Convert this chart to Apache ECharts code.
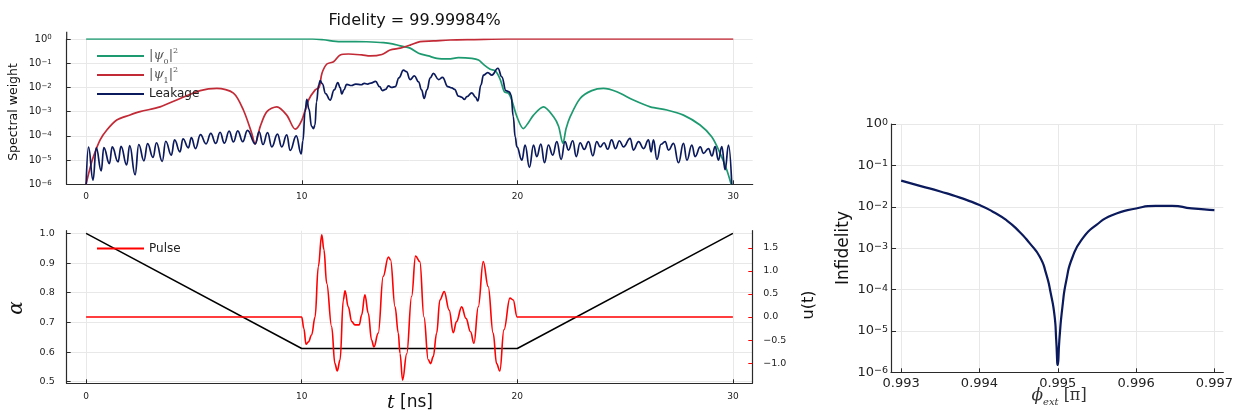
<!DOCTYPE html>
<html>
<head>
<meta charset="utf-8">
<script src="https://cdn.jsdelivr.net/npm/echarts@6/dist/echarts.min.js"></script>
<style>
  html, body { margin: 0; padding: 0; background: #fff; }
  #chart { width: 1236px; height: 412px; }
</style>
</head>
<body>
<div id="chart"></div>
<script>
// ---- data -------------------------------------------------------------
const titleText = 'Fidelity = 99.99984%';
const timeTicks = [0, 10, 20, 30];
const alphaTicks = [0.5, 0.6, 0.7, 0.8, 0.9, 1.0];
const pulseTicks = [-1.0, -0.5, 0.0, 0.5, 1.0, 1.5];
const phiTicks = [0.993, 0.994, 0.995, 0.996, 0.997];

// spectral weight of the ground state |psi0|^2 vs t [ns]
const psi0 = [
  [0, 1.0], [10.5, 1.0], [11.0, 0.93], [11.78, 0.78], [12.5, 0.78], [13.0, 0.77],
  [13.78, 0.71], [14.2, 0.63], [14.56, 0.52], [15.02, 0.42], [15.41, 0.26],
  [15.87, 0.20], [16.26, 0.158], [16.8, 0.15], [17.26, 0.17], [17.88, 0.158],
  [18.19, 0.135], [18.42, 0.089], [18.73, 0.056], [18.96, 0.049], [19.19, 0.022],
  [19.39, 6.6e-3], [19.58, 5.8e-3], [19.73, 3.0e-3], [19.97, 6.2e-4], [20.27, 2.0e-4],
  [20.5, 3.5e-4], [20.74, 7.2e-4], [21.2, 1.58e-3], [21.67, 6.2e-4], [21.9, 2.5e-4],
  [22.1, 4.9e-5], [22.25, 2.0e-4], [22.44, 6.2e-4], [22.9, 3.5e-3], [23.44, 7.4e-3],
  [23.98, 9.1e-3], [24.6, 6.6e-3], [25.37, 3.0e-3], [26.15, 1.58e-3], [26.92, 1.17e-3],
  [27.69, 7.2e-4], [28.46, 2.8e-4], [29.0, 9.1e-5], [29.39, 1.9e-5], [29.7, 3.9e-6],
  [29.9, 1e-6]
];

// spectral weight of the excited state |psi1|^2
const psi1 = [
  [0, 1e-6], [0.19, 5.0e-6], [0.34, 1.4e-5], [0.65, 6.8e-5], [0.96, 1.74e-4],
  [1.42, 4.5e-4], [2.0, 7.1e-4], [2.5, 1.0e-3], [3.43, 1.58e-3], [4.36, 3.5e-3],
  [5.29, 7.4e-3], [6.06, 9.1e-3], [6.83, 5.8e-3], [7.29, 1.17e-3], [7.68, 1.26e-4],
  [7.83, 4.6e-5], [8.07, 2.4e-4], [8.38, 1.0e-3], [8.84, 1.58e-3], [9.3, 7.2e-4],
  [9.69, 1.9e-4], [10.0, 4.5e-4], [10.31, 3.0e-3], [10.62, 7.9e-3], [10.8, 0.01],
  [10.93, 0.038], [11.16, 0.093], [11.47, 0.115], [11.78, 0.22], [12.16, 0.24],
  [12.78, 0.22], [13.17, 0.20], [13.71, 0.23], [14.09, 0.35], [14.56, 0.42],
  [15.02, 0.56], [15.48, 0.78], [16.1, 0.83], [16.87, 0.91], [18.0, 0.95],
  [19.5, 1.0], [30, 1.0]
];

// leakage out of the computational subspace
const leakage = [
  [0, 1e-6], [0.11, 3.4e-5], [0.32, 1.5e-6], [0.47, 3.2e-5], [0.70, 3.6e-6],
  [0.82, 3.3e-5], [1.08, 7.2e-6], [1.21, 3.5e-5], [1.48, 8.5e-6], [1.62, 3.7e-5],
  [1.88, 6.3e-6], [2.02, 4.0e-5], [2.27, 2.5e-6], [2.44, 4.4e-5], [2.68, 9.3e-6],
  [2.85, 4.8e-5], [3.10, 1.3e-5], [3.26, 5.2e-5], [3.53, 8.9e-6], [3.69, 6.0e-5],
  [3.95, 1.6e-5], [4.10, 6.8e-5], [4.35, 2.2e-5], [4.49, 7.6e-5], [4.74, 3.2e-5],
  [4.88, 8.5e-5], [5.07, 3.0e-5], [5.30, 1.12e-4], [5.56, 4.7e-5], [5.78, 1.26e-4],
  [6.01, 4.9e-5], [6.21, 1.41e-4], [6.41, 5.0e-5], [6.63, 1.58e-4], [6.83, 5.6e-5],
  [7.03, 1.62e-4], [7.26, 5.8e-5], [7.48, 1.7e-4], [7.84, 4.7e-5], [8.02, 1.48e-4],
  [8.20, 4.4e-5], [8.41, 1.35e-4], [8.61, 3.5e-5], [8.87, 1.17e-4], [9.07, 3.5e-5],
  [9.30, 1.1e-4], [9.46, 2.5e-5], [9.74, 1.0e-4], [9.97, 1.8e-5],
  [10.05, 6.3e-5], [10.15, 1.0e-3], [10.23, 3.2e-3], [10.33, 1.26e-3], [10.45, 2.5e-4],
  [10.54, 2.0e-4], [10.61, 2.8e-4], [10.68, 2.5e-3], [10.78, 0.0126], [10.85, 0.019],
  [10.95, 0.0141], [11.1, 5.6e-3], [11.31, 3.0e-3], [11.5, 7.9e-3], [11.67, 0.0158],
  [11.77, 0.01], [11.85, 5.4e-3], [11.95, 7.9e-3], [12.08, 0.0135], [12.3, 0.012],
  [12.5, 0.0138], [12.75, 0.0129], [12.9, 0.0148], [13.05, 0.0138], [13.2, 0.0151],
  [13.42, 0.0178], [13.6, 0.0107], [13.74, 7.4e-3], [13.88, 8.3e-3], [14.02, 0.0115],
  [14.15, 0.01], [14.33, 0.0107], [14.5, 0.025], [14.71, 0.052], [14.85, 0.045],
  [15.02, 0.021], [15.22, 0.030], [15.41, 0.017], [15.55, 7.9e-3], [15.67, 3.5e-3],
  [15.8, 7.9e-3], [15.95, 0.025], [16.1, 0.038], [16.34, 0.021], [16.52, 0.026],
  [16.77, 0.0107], [16.95, 9.5e-3], [17.08, 8.3e-3], [17.26, 4.4e-3], [17.4, 4.0e-3],
  [17.54, 3.2e-3], [17.65, 4.2e-3], [17.88, 6.0e-3], [18.05, 4.0e-3], [18.16, 2.75e-3],
  [18.3, 0.0126], [18.42, 0.032], [18.62, 0.041], [18.81, 0.032], [19.09, 0.062],
  [19.27, 0.0275], [19.46, 7.4e-3], [19.61, 6.6e-3], [19.70, 4.9e-3], [19.8, 6.3e-4],
  [19.89, 9.1e-5], [19.97, 3.5e-5],
  [20.20, 1.0e-5], [20.35, 4.2e-5], [20.55, 5.0e-6], [20.74, 4.2e-5], [20.89, 1.4e-5],
  [21.08, 4.6e-5], [21.25, 7.8e-6], [21.43, 4.2e-5], [21.63, 1.6e-5], [21.82, 5.8e-5],
  [22.02, 1.07e-5], [22.20, 5.8e-5], [22.36, 2.6e-5], [22.56, 6.3e-5], [22.72, 1.4e-5],
  [22.90, 5.2e-5], [23.09, 2.75e-5], [23.29, 5.8e-5], [23.49, 1.5e-5], [23.67, 5.8e-5],
  [23.83, 3.5e-5], [24.01, 5.2e-5], [24.18, 2.8e-5], [24.36, 6.8e-5], [24.54, 3.0e-5],
  [24.72, 6.3e-5], [24.91, 3.5e-5], [25.22, 7.9e-5], [25.37, 2.6e-5], [25.61, 5.8e-5],
  [25.84, 3.0e-5], [26.07, 6.8e-5], [26.19, 2.2e-5], [26.30, 6.8e-5], [26.46, 1.07e-5],
  [26.65, 4.5e-5], [26.84, 5.8e-5], [27.0, 2.6e-5], [27.23, 4.9e-5], [27.46, 7.8e-6],
  [27.69, 4.9e-5], [27.85, 1.0e-5], [28.08, 4.2e-5], [28.23, 1.4e-5], [28.47, 3.5e-5],
  [28.62, 1.9e-5], [28.85, 3.0e-5], [29.01, 1.5e-5], [29.16, 3.6e-5], [29.31, 1.0e-5],
  [29.47, 3.6e-5], [29.62, 4.0e-6], [29.78, 4.2e-5], [29.93, 1e-6]
];

// flux-tuning parameter alpha(t)
const alpha = [[0, 1.0], [10, 0.612], [20, 0.612], [30, 1.0]];

// control pulse u(t)
const pulse = [
  [0, 0], [10, 0], [10.1, -0.25], [10.2, -0.59], [10.31, -0.54], [10.46, -0.39],
  [10.62, 0], [10.77, 1.09], [10.93, 1.78], [11.03, 1.46], [11.16, 0.73],
  [11.39, -0.21], [11.54, -1.01], [11.65, -1.17], [11.78, -0.93], [11.93, 0.37],
  [12.01, 0.57], [12.16, 0.22], [12.32, -0.1], [12.47, -0.17], [12.67, -0.17],
  [12.78, 0.04], [12.93, 0.48], [13.09, 0.08], [13.24, -0.5], [13.35, -0.65],
  [13.55, -0.35], [13.78, 0.88], [14.02, 1.3], [14.12, 1.24], [14.33, 0.22],
  [14.48, -0.35], [14.56, -0.79], [14.68, -1.37], [14.87, -0.8], [15.1, 0.45],
  [15.28, 1.32], [15.48, 1.2], [15.67, 0], [15.87, -0.93], [15.98, -1.01],
  [16.1, -0.86], [16.26, -0.35], [16.41, 0.37], [16.61, 0.55], [16.84, 0.15],
  [17.03, -0.34], [17.18, -0.10], [17.42, 0.22], [17.62, -0.03], [17.83, -0.32],
  [17.99, -0.57], [18.19, 0.22], [18.42, 1.2], [18.65, 0.66], [18.88, -0.35],
  [19.04, -1.01], [19.19, -1.17], [19.38, -0.28], [19.66, 0.41], [19.81, 0.37],
  [19.99, 0], [30, 0]
];

// gate infidelity vs external flux phi_ext [pi]
const infidelity = [
  [0.99300, 0.0427], [0.99325, 0.0316], [0.99350, 0.0234], [0.99375, 0.0166],
  [0.99400, 0.0110], [0.99417, 7.6e-3], [0.99434, 4.8e-3], [0.99451, 2.5e-3],
  [0.99464, 1.32e-3], [0.99477, 6.2e-4], [0.99485, 2.45e-4], [0.99491, 8.1e-5],
  [0.99496, 2.2e-5], [0.99498, 6.0e-6], [0.99500, 1.5e-6], [0.99502, 6.0e-6],
  [0.99506, 3.9e-5], [0.99511, 1.7e-4], [0.99519, 6.2e-4], [0.99532, 1.74e-3],
  [0.99549, 3.6e-3], [0.99570, 6.3e-3], [0.99600, 9.1e-3], [0.99625, 0.0105],
  [0.99646, 0.0105], [0.99671, 9.1e-3], [0.99700, 8.3e-3]
];

// ---- styling ----------------------------------------------------------
const FONT = 'DejaVu Sans';
const MATH = 'DejaVu Serif';
const GREEN = '#1d9a70';
const RED = '#c22a36';
const NAVY = '#0b1a5c';
const PULSE = '#ff0000';
const GRID_COLOR = '#e8e8e8';
const AXIS_COLOR = '#2a2a2a';
const LABEL_COLOR = '#222';

function minus(s) { return String(s).replace('-', '\u2212'); }
function powLabel(v) {
  const e = Math.round(Math.log10(v));
  return '10{s|' + minus(e) + '}';
}

const axisLine = { show: true, onZero: false, lineStyle: { color: AXIS_COLOR, width: 1.2 } };
const splitLine = { show: true, lineStyle: { color: GRID_COLOR, width: 1 } };
const tick = (extra) => Object.assign({ show: true, inside: true, length: 4, lineStyle: { color: AXIS_COLOR } }, extra || {});

const mathRich = {
  bar: { fontFamily: MATH, fontSize: 13, color: '#555', lineHeight: 19 },
  psi: { fontFamily: MATH, fontStyle: 'italic', fontSize: 13, color: '#555', lineHeight: 19 },
  sub: { fontFamily: MATH, fontSize: 8, color: '#555', lineHeight: 9, verticalAlign: 'bottom' },
  sup: { fontFamily: MATH, fontSize: 8, color: '#555', lineHeight: 9, verticalAlign: 'top' }
};
const legendNames = {
  psi0: '{bar||}{psi|ψ}{sub|0}{bar||}{sup|2}',
  psi1: '{bar||}{psi|ψ}{sub|1}{bar||}{sup|2}',
  Leakage: 'Leakage',
  Pulse: 'Pulse'
};

const option = {
  animation: false,
  backgroundColor: '#fff',
  textStyle: { fontFamily: FONT },
  title: {
    text: titleText, left: 409.7, top: 8, textAlign: 'center',
    textStyle: { fontFamily: FONT, fontSize: 16, fontWeight: 'normal', color: '#111' }
  },
  grid: [
    { left: 66.7, right: 483.3, top: 39, bottom: 227.7, containLabel: false },
    { left: 66.7, right: 483.7, top: 230.7, bottom: 28.7, containLabel: false },
    { left: 891, right: 11, top: 124, bottom: 39.7, containLabel: false }
  ],
  legend: [
    {
      data: ['psi0', 'psi1', 'Leakage'], orient: 'vertical', left: 92, top: 41.5,
      itemWidth: 47, itemHeight: 2, itemGap: 0, icon: 'rect', selectedMode: false,
      formatter: (n) => legendNames[n],
      textStyle: { fontFamily: FONT, fontSize: 12, color: LABEL_COLOR, lineHeight: 19, rich: mathRich }
    },
    {
      data: ['Pulse'], orient: 'vertical', left: 92, top: 234,
      itemWidth: 47, itemHeight: 2, itemGap: 0, icon: 'rect', selectedMode: false,
      textStyle: { fontFamily: FONT, fontSize: 12, color: LABEL_COLOR, lineHeight: 19 }
    }
  ],
  xAxis: [
    {
      gridIndex: 0, type: 'value', min: -0.9, max: 30.9,
      axisLine, splitLine,
      axisTick: tick({ customValues: timeTicks }),
      axisLabel: { customValues: timeTicks, fontSize: 9, color: LABEL_COLOR, margin: 8 }
    },
    {
      gridIndex: 1, type: 'value', min: -0.9, max: 30.9,
      axisLine, splitLine,
      axisTick: tick({ customValues: timeTicks }),
      axisLabel: { customValues: timeTicks, fontSize: 9, color: LABEL_COLOR, margin: 9 }
    },
    {
      gridIndex: 2, type: 'value', min: 0.99287, max: 0.997114,
      axisLine, splitLine,
      axisTick: tick({ customValues: phiTicks }),
      axisLabel: {
        customValues: phiTicks, fontSize: 13, color: LABEL_COLOR, margin: 5,
        formatter: (v) => v.toFixed(3)
      }
    }
  ],
  yAxis: [
    {
      gridIndex: 0, type: 'log', logBase: 10, min: 1e-6, max: 1, interval: 1,
      axisLine, splitLine, axisTick: tick(),
      axisLabel: {
        fontSize: 10, color: LABEL_COLOR, margin: 15, formatter: powLabel,
        rich: { s: { fontSize: 7, color: LABEL_COLOR, lineHeight: 8, verticalAlign: 'top' } }
      }
    },
    {
      gridIndex: 1, type: 'value', min: 0.4946, max: 1.009,
      axisLine, splitLine,
      axisTick: tick({ customValues: alphaTicks }),
      axisLabel: {
        customValues: alphaTicks, fontSize: 9.5, color: LABEL_COLOR, margin: 12,
        formatter: (v) => v.toFixed(1)
      }
    },
    {
      gridIndex: 1, type: 'value', position: 'right', min: -1.4376, max: 1.871,
      axisLine, splitLine: { show: false },
      axisTick: tick({ customValues: pulseTicks, lineStyle: { color: PULSE } }),
      axisLabel: {
        customValues: pulseTicks, fontSize: 9.5, color: LABEL_COLOR, margin: 11,
        formatter: (v) => minus(v.toFixed(1))
      }
    },
    {
      gridIndex: 2, type: 'log', logBase: 10, min: 1e-6, max: 1, interval: 1,
      axisLine, splitLine, axisTick: tick({ length: 5 }),
      axisLabel: {
        fontSize: 13, color: LABEL_COLOR, margin: 3, formatter: powLabel,
        rich: { s: { fontSize: 9.5, color: LABEL_COLOR, lineHeight: 10, verticalAlign: 'top' } }
      }
    }
  ],
  series: [
    {
      name: 'psi0', type: 'line', xAxisIndex: 0, yAxisIndex: 0, data: psi0,
      showSymbol: false, symbol: 'none', smooth: 0.3, color: GREEN,
      lineStyle: { color: GREEN, width: 1.7 }
    },
    {
      name: 'psi1', type: 'line', xAxisIndex: 0, yAxisIndex: 0, data: psi1,
      showSymbol: false, symbol: 'none', smooth: 0.3, color: RED,
      lineStyle: { color: RED, width: 1.7 }
    },
    {
      name: 'Leakage', type: 'line', xAxisIndex: 0, yAxisIndex: 0, data: leakage,
      showSymbol: false, symbol: 'none', smooth: 0.45, smoothMonotone: 'x', color: NAVY,
      lineStyle: { color: NAVY, width: 1.7 }
    },
    {
      name: 'alpha', type: 'line', xAxisIndex: 1, yAxisIndex: 1, data: alpha,
      showSymbol: false, symbol: 'none', color: '#000',
      lineStyle: { color: '#000', width: 1.5 }
    },
    {
      name: 'Pulse', type: 'line', xAxisIndex: 1, yAxisIndex: 2, data: pulse,
      showSymbol: false, symbol: 'none', smooth: 0.4, smoothMonotone: 'x', color: PULSE,
      lineStyle: { color: PULSE, width: 1.6 }
    },
    {
      name: 'infidelity', type: 'line', xAxisIndex: 2, yAxisIndex: 3, data: infidelity,
      showSymbol: false, symbol: 'none', smooth: 0.6, color: NAVY,
      lineStyle: { color: NAVY, width: 2.2 }
    }
  ],
  graphic: [
    // spine of the spectral-weight axis continues a little above 10^0
    { type: 'line', shape: { x1: 66.7, y1: 31.7, x2: 66.7, y2: 39 }, style: { stroke: AXIS_COLOR, lineWidth: 1.2 } },
    {
      type: 'text', x: 14, y: 112, rotation: Math.PI / 2,
      style: { text: 'Spectral weight', fontFamily: FONT, fontSize: 12.5, fill: '#111', align: 'center', verticalAlign: 'middle' }
    },
    {
      type: 'text', x: 17, y: 308, rotation: Math.PI / 2,
      style: { text: 'α', fontFamily: MATH, fontStyle: 'italic', fontSize: 20, fill: '#111', align: 'center', verticalAlign: 'middle' }
    },
    {
      type: 'text', x: 809, y: 305, rotation: Math.PI / 2,
      style: { text: 'u(t)', fontFamily: FONT, fontSize: 16, fill: '#111', align: 'center', verticalAlign: 'middle' }
    },
    {
      type: 'text', x: 410, y: 403,
      style: {
        text: '{t|t} [ns]', fontFamily: FONT, fontSize: 17, fill: '#111', align: 'center', verticalAlign: 'middle',
        rich: { t: { fontFamily: MATH, fontStyle: 'italic', fontSize: 19, fill: '#111' } }
      }
    },
    {
      type: 'text', x: 844, y: 248, rotation: Math.PI / 2,
      style: { text: 'Infidelity', fontFamily: FONT, fontSize: 17, fill: '#111', align: 'center', verticalAlign: 'middle' }
    },
    {
      type: 'text', x: 1059, y: 396,
      style: {
        text: '{p|ϕ}{e|ext} [π]', fontFamily: MATH, fontSize: 16, fill: '#333', align: 'center', verticalAlign: 'middle',
        rich: {
          p: { fontFamily: MATH, fontStyle: 'italic', fontSize: 17, fill: '#333', lineHeight: 22 },
          e: { fontFamily: MATH, fontStyle: 'italic', fontSize: 10, fill: '#333', lineHeight: 10, verticalAlign: 'bottom' }
        }
      }
    }
  ]
};

const chart = echarts.init(document.getElementById('chart'), null, { renderer: 'canvas' });
chart.setOption(option);
</script>
</body>
</html>
